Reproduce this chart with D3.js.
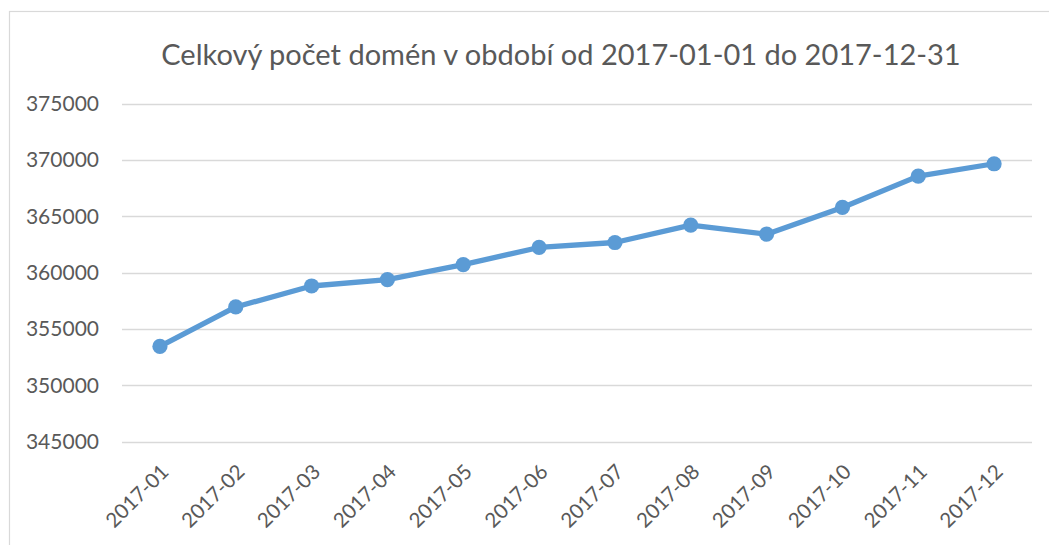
<!DOCTYPE html>
<html>
<head>
<meta charset="utf-8">
<script src="https://cdn.jsdelivr.net/npm/d3@7"></script>
<style>
  html, body { margin: 0; padding: 0; background: #fff; }
  svg { display: block; }
</style>
</head>
<body>
<div id="chart"></div>
<script>
const months = ["2017-01", "2017-02", "2017-03", "2017-04", "2017-05", "2017-06",
  "2017-07", "2017-08", "2017-09", "2017-10", "2017-11", "2017-12"];
const domainCounts = [353460, 356960, 358820, 359390, 360720, 362240,
  362680, 364220, 363420, 365790, 368570, 369670];
const yTicks = [345000, 350000, 355000, 360000, 365000, 370000, 375000];
const title = "Celkový počet domén v období od 2017-01-01 do 2017-12-31";

const width = 1049;
const height = 545;
const font = "Lato, Carlito, Calibri, sans-serif";
const textColor = "#595959";

const svg = d3.select("#chart")
  .append("svg")
  .attr("width", width)
  .attr("height", height);

// chart frame (runs off the right and bottom edge in the reference)
svg.append("rect")
  .attr("x", 9.5)
  .attr("y", 11.5)
  .attr("width", 1200)
  .attr("height", 700)
  .style("fill", "none")
  .style("stroke", "#d9d9d9")
  .style("stroke-width", 1.2);

const xScale = d3.scalePoint()
  .domain(months)
  .range([122, 1032])
  .padding(0.5);

const yScale = d3.scaleLinear()
  .domain([345000, 375000])
  .range([441.7, 103.7]);

// gridlines
svg.append("g")
  .selectAll("line")
  .data(yTicks)
  .join("line")
  .attr("x1", 122)
  .attr("x2", 1032)
  .attr("y1", (d) => Math.round(yScale(d)) + 0.5)
  .attr("y2", (d) => Math.round(yScale(d)) + 0.5)
  .style("stroke", "#d9d9d9")
  .style("stroke-width", 1.3);

// y axis labels
const yAxis = svg.append("g")
  .attr("transform", "translate(99,0)")
  .call(d3.axisLeft(yScale).tickValues(yTicks).tickFormat(d3.format("d")).tickSize(0).tickPadding(0));
yAxis.select(".domain").remove();
yAxis.selectAll("text")
  .style("font-family", font)
  .style("font-size", "21px")
  .style("fill", textColor);

// x axis labels, rotated
const xAxis = svg.append("g")
  .call(d3.axisBottom(xScale).tickSize(0).tickPadding(0));
xAxis.select(".domain").remove();
xAxis.selectAll(".tick")
  .attr("transform", (d) => `translate(${xScale(d) + 5},468)`);
xAxis.selectAll("text")
  .attr("y", 0)
  .attr("x", 0)
  .attr("dy", "0.35em")
  .attr("transform", "rotate(-45)")
  .style("text-anchor", "end")
  .style("font-family", font)
  .style("font-size", "20.5px")
  .style("fill", textColor);

// line
const line = d3.line()
  .x((d, i) => xScale(months[i]))
  .y((d) => yScale(d));

svg.append("path")
  .datum(domainCounts)
  .attr("d", line)
  .style("fill", "none")
  .style("stroke", "#5b9bd5")
  .style("stroke-width", 5.3)
  .style("stroke-linejoin", "round")
  .style("stroke-linecap", "round");

svg.append("g")
  .selectAll("circle")
  .data(domainCounts)
  .join("circle")
  .attr("cx", (d, i) => xScale(months[i]))
  .attr("cy", (d) => yScale(d))
  .attr("r", 7.6)
  .style("fill", "#5b9bd5");

// title
svg.append("text")
  .attr("x", 561)
  .attr("y", 65)
  .style("text-anchor", "middle")
  .style("font-family", font)
  .style("font-size", "29px")
  .style("fill", textColor)
  .text(title);
</script>
</body>
</html>
